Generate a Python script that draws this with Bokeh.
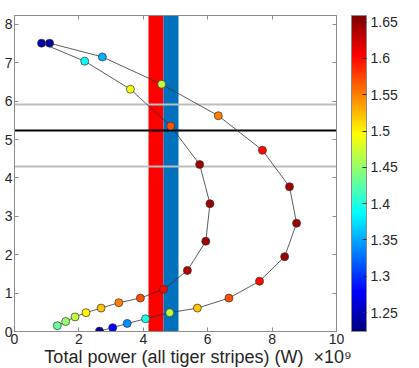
import math
import numpy as np
from bokeh.plotting import figure
from bokeh.models import (LinearColorMapper, ColorBar, FixedTicker, LinearAxis,
                          ColumnDataSource, CustomJSTickFormatter)
from bokeh.embed import file_html
from bokeh.resources import INLINE

# ---- data ----
outer_x = [2.64, 3.05, 3.50, 4.07, 4.82, 5.68, 6.66, 7.61, 8.39, 8.76, 8.54, 7.70, 6.33, 4.57, 2.73, 1.09]
outer_y = [0.01, 0.10, 0.21, 0.33, 0.49, 0.61, 0.87, 1.31, 1.95, 2.82, 3.77, 4.72, 5.62, 6.44, 7.15, 7.51]
outer_c = [1.235, 1.28, 1.34, 1.40, 1.47, 1.52, 1.57, 1.60, 1.645, 1.645, 1.645, 1.60, 1.55, 1.47, 1.355, 1.24]

inner_x = [1.33, 1.59, 1.88, 2.22, 2.69, 3.24, 3.91, 4.63, 5.37, 5.94, 6.07, 5.75, 4.85, 3.60, 2.18, 0.84]
inner_y = [0.15, 0.26, 0.38, 0.49, 0.61, 0.75, 0.87, 1.10, 1.59, 2.35, 3.33, 4.35, 5.35, 6.31, 7.04, 7.51]
inner_c = [1.43, 1.45, 1.47, 1.50, 1.52, 1.55, 1.57, 1.60, 1.635, 1.645, 1.645, 1.645, 1.57, 1.49, 1.39, 1.24]

red_band = (4.16, 4.63)
blue_band = (4.63, 5.09)
gray_lines = [5.90, 4.31]
black_line = [5.23]

x_ticks = [0, 2, 4, 6, 8, 10]
y_ticks = [0, 1, 2, 3, 4, 5, 6, 7, 8]
c_ticks = [1.25, 1.30, 1.35, 1.40, 1.45, 1.50, 1.55, 1.60, 1.65]
x_lo, x_hi = 0, 10
y_lo, y_hi = 0, 8.23
c_low, c_high = 1.224, 1.659

x_title = "Total power (all tiger stripes) (W)"
x_exponent = "\u00d710\u2079"

# ---- jet colormap ----
def jet(n=256):
    t = np.linspace(0, 1, n)
    r = np.clip(1.5 - np.abs(4 * t - 3), 0, 1)
    g = np.clip(1.5 - np.abs(4 * t - 2), 0, 1)
    b = np.clip(1.5 - np.abs(4 * t - 1), 0, 1)
    return ["#%02x%02x%02x" % (int(rr * 255), int(gg * 255), int(bb * 255)) for rr, gg, bb in zip(r, g, b)]

mapper = LinearColorMapper(palette=jet(), low=c_low, high=c_high)

FONT = "Liberation Sans"
TXT = "#262626"
AX = "#8c8c8c"

p = figure(frame_width=322, frame_height=316, x_range=(x_lo, x_hi), y_range=(y_lo, y_hi),
           output_backend="svg", toolbar_location=None,
           min_border_top=15, min_border_left=14, min_border_bottom=0, min_border_right=0)
p.grid.visible = False
p.outline_line_color = AX
p.background_fill_color = "white"

p.vstrip(x0=[red_band[0]], x1=[red_band[1]], fill_color="#ff0000", line_color=None)
p.vstrip(x0=[blue_band[0]], x1=[blue_band[1]], fill_color="#0072bd", line_color=None)
p.hspan(y=gray_lines, line_color="#bdbdbd", line_width=2)
p.hspan(y=black_line, line_color="black", line_width=2)

src_o = ColumnDataSource(dict(x=outer_x, y=outer_y, c=outer_c))
src_i = ColumnDataSource(dict(x=inner_x, y=inner_y, c=inner_c))
p.line("x", "y", source=src_o, line_color="#333333", line_width=0.8)
p.line("x", "y", source=src_i, line_color="#333333", line_width=0.8)
p.scatter("x", "y", source=src_o, size=8, fill_color={"field": "c", "transform": mapper},
          line_color="#333333", line_width=0.7)
p.scatter("x", "y", source=src_i, size=8, fill_color={"field": "c", "transform": mapper},
          line_color="#333333", line_width=0.7)

def style_axis(ax, labels=True):
    ax.major_tick_in = 4
    ax.major_tick_out = 0
    ax.minor_tick_line_color = None
    ax.axis_line_color = AX
    ax.major_tick_line_color = AX
    ax.major_label_text_font = FONT
    ax.major_label_text_color = TXT if labels else None
    ax.major_label_text_font_size = "14px"
    ax.major_label_standoff = 2

p.xaxis.ticker = FixedTicker(ticks=x_ticks)
p.yaxis.ticker = FixedTicker(ticks=y_ticks)
for ax in p.xaxis + p.yaxis:
    style_axis(ax)
# exponent written after the title; equal-width padding in front keeps the title centred
p.xaxis.axis_label = ("\u2007" * 4 + "\u00a0") + x_title + "\u00a0\u00a0" + x_exponent
p.xaxis.axis_label_text_font = FONT
p.xaxis.axis_label_text_font_style = "normal"
p.xaxis.axis_label_text_font_size = "18px"
p.xaxis.axis_label_text_color = TXT
p.xaxis.axis_label_standoff = 0

# box ticks on top and right (labels hidden)
top = LinearAxis(ticker=FixedTicker(ticks=x_ticks))
style_axis(top, labels=False)
p.add_layout(top, "above")
right = LinearAxis(ticker=FixedTicker(ticks=y_ticks))
style_axis(right, labels=False)
p.add_layout(right, "right")
# invisible spacer axis: gap between the frame and the colour bar
spacer = LinearAxis(ticker=FixedTicker(ticks=y_ticks), major_tick_in=0, major_tick_out=15,
                    major_tick_line_color=None, axis_line_color=None,
                    minor_tick_line_color=None, major_label_text_color=None)
p.add_layout(spacer, "right")

cb = ColorBar(color_mapper=mapper, ticker=FixedTicker(ticks=c_ticks),
              formatter=CustomJSTickFormatter(code="return String(Math.round(tick*100)/100)"),
              width=15, padding=0, margin=0, label_standoff=4,
              major_label_text_font=FONT, major_label_text_font_size="14px",
              major_label_text_color=TXT, major_tick_in=4, major_tick_out=0,
              major_tick_line_color=TXT, bar_line_color=AX, minor_tick_line_color=None,
              background_fill_color=None, border_line_color=None)
p.add_layout(cb, "right")

open("out.html", "w").write(file_html(p, INLINE))
